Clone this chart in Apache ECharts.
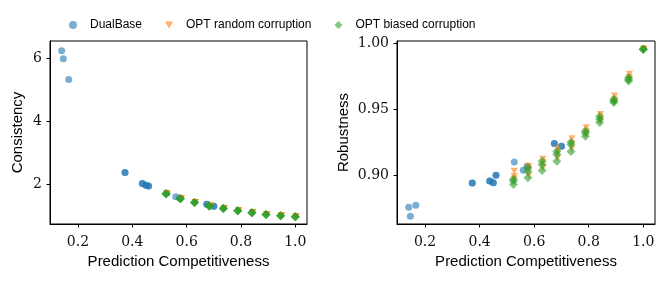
<!DOCTYPE html>
<html><head><meta charset="utf-8">
<script src="https://cdn.jsdelivr.net/npm/echarts@6/dist/echarts.min.js"></script>
<style>html,body{margin:0;padding:0;background:#fff}#c{width:665px;height:281px}</style>
</head><body><div id="c"></div>
<script>
// ---- data ----
const seriesNames = ['DualBase', 'OPT random corruption', 'OPT biased corruption'];
const dualX    = [0.140, 0.146, 0.166, 0.373, 0.373, 0.437, 0.437, 0.450, 0.450, 0.460, 0.460, 0.527, 0.560, 0.574, 0.674, 0.674, 0.700, 0.700];
const dualCons = [6.25, 6.00, 5.34, 2.38, 2.38, 2.03, 2.03, 1.98, 1.98, 1.95, 1.95, 1.72, 1.61, 1.57, 1.37, 1.37, 1.31, 1.31];
const dualRob  = [0.8757, 0.8688, 0.8772, 0.894, 0.894, 0.8955, 0.8955, 0.8942, 0.8942, 0.900, 0.900, 0.910, 0.9038, 0.9068, 0.924, 0.924, 0.922, 0.922];

const randX    = [0.527, 0.580, 0.632, 0.686, 0.738, 0.791, 0.843, 0.895, 0.949, 1.002];
const biasX    = [0.524, 0.577, 0.629, 0.683, 0.735, 0.788, 0.840, 0.892, 0.946, 1.000];
const optCons  = [1.71, 1.55, 1.43, 1.32, 1.24, 1.17, 1.10, 1.05, 1.01, 0.98];
const randRob  = [
  [0.903, 0.899, 0.897], [0.9068, 0.9045, 0.8998], [0.912, 0.9095, 0.9056],
  [0.920, 0.917, 0.913], [0.9277, 0.924, 0.920], [0.936, 0.933, 0.931],
  [0.946, 0.9435, 0.941], [0.960, 0.957, 0.9555], [0.9765, 0.974, 0.9725],
  [0.9955, 0.9955, 0.9955]
];
const biasRob  = [
  [0.897, 0.8955, 0.893], [0.9056, 0.903, 0.898], [0.9106, 0.908, 0.9036],
  [0.918, 0.9157, 0.9106], [0.925, 0.9233, 0.918], [0.9334, 0.932, 0.9296],
  [0.9444, 0.9423, 0.940], [0.9575, 0.9562, 0.955], [0.974, 0.9725, 0.9714],
  [0.9955, 0.9955, 0.9955]
];

const xTicks    = [0.2, 0.4, 0.6, 0.8, 1.0];
const consTicks = [2, 4, 6];
const robTicks  = [0.90, 0.95, 1.00];

// ---- build ----
function pairs(xs, ys) { return xs.map((x, i) => [x, ys[i]]); }
function flatCons(xs, cons, rob) {
  const out = [];
  xs.forEach((x, i) => rob[i].forEach(() => out.push([x, cons[i]])));
  return out;
}
function flatRob(xs, rob) {
  const out = [];
  xs.forEach((x, i) => rob[i].forEach(r => out.push([x, r])));
  return out;
}

const colors = ['#1f77b4', '#ff7f0e', '#2ca02c'];
const tickFont = 'DejaVu Serif';
const labFont = 'Liberation Sans';

function xAx(gi) {
  return {
    type: 'value', gridIndex: gi, min: 0.097, max: 1.043,
    name: 'Prediction Competitiveness', nameLocation: 'middle', nameGap: 30,
    nameTextStyle: { fontFamily: labFont, fontSize: 15, color: '#000' },
    axisLine: { show: true, onZero: false, lineStyle: { color: '#000', width: 1 } },
    axisTick: { show: true, inside: false, length: 3.5, customValues: xTicks, lineStyle: { color: '#000' } },
    axisLabel: { customValues: xTicks, margin: 11, formatter: v => v.toFixed(1), fontFamily: tickFont, fontSize: 14, color: '#111' },
    splitLine: { show: false }
  };
}
function yAx(gi, min, max, ticks, name, gap, dec) {
  return {
    type: 'value', gridIndex: gi, min: min, max: max,
    name: name, nameLocation: 'middle', nameGap: gap,
    nameTextStyle: { fontFamily: labFont, fontSize: 15, color: '#000' },
    axisLine: { show: true, onZero: false, lineStyle: { color: '#000', width: 1 } },
    axisTick: { show: true, inside: false, length: 3.5, customValues: ticks, lineStyle: { color: '#000' } },
    axisLabel: { customValues: ticks, margin: 8, formatter: v => v.toFixed(dec), fontFamily: tickFont, fontSize: 14, color: '#111' },
    splitLine: { show: false }
  };
}

const symbols = ['circle', 'triangle', 'diamond'];
const sizes = [7, 7, 9];
const rot = [0, 180, 0];
function sc(i, xi, yi, data) {
  return {
    name: seriesNames[i], type: 'scatter', xAxisIndex: xi, yAxisIndex: yi,
    data: data, symbol: symbols[i], symbolSize: sizes[i], symbolRotate: rot[i],
    itemStyle: { color: colors[i], opacity: 0.6 },
    emphasis: { disabled: true }, animation: false
  };
}

const option = {
  animation: false,
  backgroundColor: '#fff',
  legend: {
    top: 19, left: 69, padding: 0, itemWidth: 8, itemHeight: 8, itemGap: 23,
    textStyle: { fontFamily: labFont, fontSize: 12, color: '#000', padding: [0, 0, 0, 8] },
    data: [
      { name: seriesNames[0], icon: 'circle' },
      { name: seriesNames[1], icon: 'path://M0,0L10,0L5,9Z' },
      { name: seriesNames[2], icon: 'diamond' }
    ]
  },
  grid: [
    { left: 50, top: 41, width: 257, height: 183, show: true, borderColor: '#000', borderWidth: 1, containLabel: false },
    { left: 397, top: 41, width: 258, height: 183, show: true, borderColor: '#000', borderWidth: 1, containLabel: false }
  ],
  xAxis: [xAx(0), xAx(1)],
  yAxis: [
    yAx(0, 0.746, 6.56, consTicks, 'Consistency', 25, 0),
    yAx(1, 0.863, 1.0017, robTicks, 'Robustness', 46, 2)
  ],
  series: [
    sc(0, 0, 0, pairs(dualX, dualCons)),
    sc(1, 0, 0, flatCons(randX, optCons, randRob)),
    sc(2, 0, 0, flatCons(biasX, optCons, biasRob)),
    sc(0, 1, 1, pairs(dualX, dualRob)),
    sc(1, 1, 1, flatRob(randX, randRob)),
    sc(2, 1, 1, flatRob(biasX, biasRob))
  ]
};
const chart = echarts.init(document.getElementById('c'));
chart.setOption(option);
</script>
</body></html>
